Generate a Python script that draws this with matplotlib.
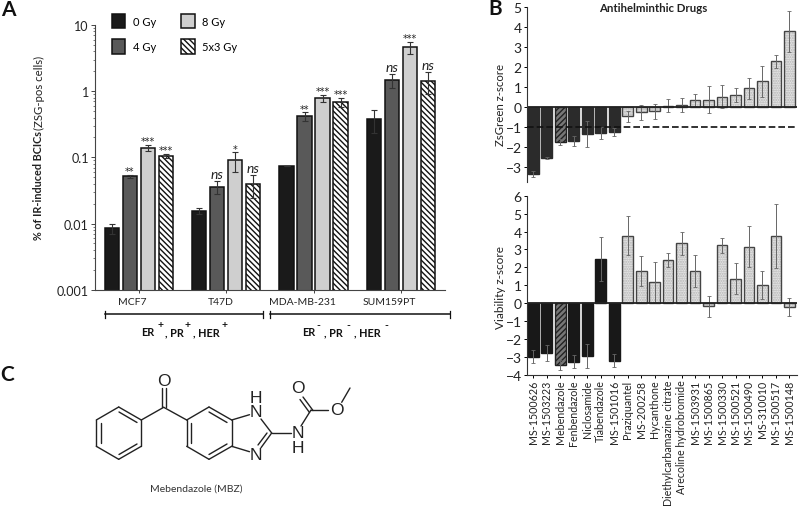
import matplotlib
matplotlib.use("Agg")
import matplotlib.pyplot as plt
import numpy as np

plt.rcParams['font.family'] = ['Lato', 'DejaVu Sans']
plt.rcParams['hatch.linewidth'] = 1.0

W, H = 800, 510

# panel A
cell_lines = ['MCF7', 'T47D', 'MDA-MB-231', 'SUM159PT']
doses = ['0 Gy', '4 Gy', '8 Gy', '5x3 Gy']
gy0 = [0.0085, 0.0155, 0.074, 0.38]
gy4 = [0.052, 0.036, 0.42, 1.48]
gy8 = [0.14, 0.09, 0.79, 4.65]
gy5x3 = [0.106, 0.039, 0.69, 1.44]
gy0_err = [0.0015, 0.0015, 0.001, 0.145]
gy4_err = [0.003, 0.008, 0.06, 0.36]
gy8_err = [0.015, 0.03, 0.095, 0.95]
gy5x3_err = [0.008, 0.015, 0.11, 0.53]
gy4_sig = ['**', 'ns', '**', 'ns']
gy8_sig = ['***', '*', '***', '***']
gy5x3_sig = ['***', 'ns', '***', 'ns']

# panel B
drugs = ['MS-1500626', 'MS-1503223', 'Mebendazole', 'Fenbendazole', 'Niclosamide',
         'Tiabendazole', 'MS-1501016', 'Praziquantel', 'MS-200258', 'Hycanthone',
         'Diethylcarbamazine citrate', 'Arecoline hydrobromide', 'MS-1503931',
         'MS-1500865', 'MS-1500330', 'MS-1500521', 'MS-1500490', 'MS-310010',
         'MS-1500517', 'MS-1500148']
zsgreen = [-3.35, -2.55, -1.75, -1.7, -1.35, -1.3, -1.25, -0.45, -0.25, -0.2,
           0.08, 0.12, 0.36, 0.38, 0.53, 0.62, 0.95, 1.3, 2.3, 3.8]
zsgreen_err = [0.17, 0.07, 0.13, 0.27, 0.66, 0.3, 0.2, 0.28, 0.38, 0.37,
               0.33, 0.35, 0.3, 0.68, 0.57, 0.35, 0.52, 0.77, 0.32, 1.02]
viability = [-2.97, -2.77, -3.44, -3.25, -2.94, 2.47, -3.2, 3.77, 1.78, 1.19,
             2.42, 3.35, 1.82, -0.17, 3.23, 1.38, 3.16, 1.0, 3.77, -0.22]
viability_err = [0.36, 0.43, 0.3, 0.37, 0.68, 1.23, 0.35, 1.1, 0.84, 1.1,
                 0.37, 0.63, 0.89, 0.57, 0.43, 0.85, 1.13, 0.78, 1.79, 0.5]
n_hits = 7


def axes_px(left, top, right, bottom):
    return fig.add_axes([left / W, 1 - bottom / H, (right - left) / W, (bottom - top) / H])


fig = plt.figure(figsize=(8, 5.1), dpi=100)

# ---- A ----
ax = axes_px(95, 26, 445, 290.7)
ax.set_yscale('log')
ax.set_ylim(0.001, 10)
ax.set_xlim(-0.944, 18.5)
group_step = 4.85
styles = [dict(color='#1a1a1a', edgecolor='#111111'),
          dict(color='#595959', edgecolor='#111111'),
          dict(color='#cfcfcf', edgecolor='#111111'),
          dict(color='white', edgecolor='#111111', hatch='\\\\\\\\\\\\')]
series = [gy0, gy4, gy8, gy5x3]
errs = [gy0_err, gy4_err, gy8_err, gy5x3_err]
sigs = [None, gy4_sig, gy8_sig, gy5x3_sig]
handles = []
for i in range(4):
    xs = np.arange(4) * group_step + i
    b = ax.bar(xs, series[i], width=0.8, bottom=0.0001, linewidth=1.1, **styles[i])
    handles.append(b)
    ax.errorbar(xs, series[i], yerr=errs[i], fmt='none', ecolor='#333333',
                elinewidth=0.8, capsize=2, capthick=0.8)
    if sigs[i] is None:
        continue
    for x, v, e, s in zip(xs, series[i], errs[i], sigs[i]):
        if s == 'ns':
            ax.annotate(s, (x, v + e), xytext=(0, 0.5), textcoords='offset points',
                        ha='center', va='bottom', fontsize=10, style='italic', color='#222222')
        else:
            ax.annotate(s, (x, v + e), xytext=(0, -1.2), textcoords='offset points',
                        ha='center', va='bottom', fontsize=7, family='DejaVu Sans', color='#222222')

for s in ['top', 'right']:
    ax.spines[s].set_visible(False)
for s in ['left', 'bottom']:
    ax.spines[s].set_color('#444444')
    ax.spines[s].set_linewidth(0.8)
ax.set_xticks(np.arange(4) * group_step + 1.5)
ax.set_xticklabels([])
ax.tick_params(axis='x', length=2.5, width=0.7, color='#444444')
ax.set_yticks([0.001, 0.01, 0.1, 1, 10])
ax.set_yticklabels(['0.001', '0.01', '0.1', '1', '10'], fontsize=9, color='#222222')
ax.tick_params(axis='y', which='major', length=3, width=0.7, color='#444444', pad=1.5)
ax.tick_params(axis='y', which='minor', length=1.5, width=0.5, color='#444444')
ax.legend([h for h in handles], doses, ncol=2, frameon=False, fontsize=8,
          loc='upper left', bbox_to_anchor=(0.0486, 1.0416), handlelength=1.2, handleheight=1.6,
          labelspacing=1.0, columnspacing=2.3, handletextpad=0.65, borderpad=0, borderaxespad=0)

# ---- B ----
xpos = np.arange(len(drugs))


def draw_zscores(a, values, errors, hit_color, is_hit):
    for i, (x, v) in enumerate(zip(xpos, values)):
        if drugs[i] == 'Mebendazole':
            a.bar(x, v, width=0.8, linewidth=1.0, color='#777777', edgecolor='#222222', hatch='//////')
        elif is_hit[i]:
            a.bar(x, v, width=0.8, linewidth=1.0, color=hit_color, edgecolor=hit_color)
        else:
            a.bar(x, v, width=0.8, linewidth=0, color='#e4e4e4', edgecolor='#b4b4b4', hatch='.......')
            a.bar(x, v, width=0.8, linewidth=1.0, fill=False, edgecolor='#444444')
    a.errorbar(xpos, values, yerr=errors, fmt='none', ecolor='#666666',
               elinewidth=0.7, capsize=1.2, capthick=0.6)
    a.axhline(0, color='#222222', linewidth=1.3)
    a.set_xlim((526.7 - 533.3) / 13.48, (797 - 533.3) / 13.48)
    for s in ['top', 'right']:
        a.spines[s].set_visible(False)
    a.spines['left'].set_color('#333333')
    a.spines['left'].set_linewidth(0.8)
    a.tick_params(axis='y', length=2.5, width=0.7, labelsize=10, pad=1, labelcolor='#222222')


ax_top = axes_px(526.7, 8.3, 797, 183)
draw_zscores(ax_top, zsgreen, zsgreen_err, '#2b2b2b', [i < n_hits for i in range(20)])
ax_top.set_ylim(-3.75, 5)
ax_top.set_yticks(range(-3, 6))
ax_top.spines['bottom'].set_visible(False)
ax_top.set_xticks([])
ax_top.axhline(-1, color='#111111', linewidth=1.2, linestyle=(0, (4, 1.8)), zorder=5)

ax_bot = axes_px(526.7, 196.7, 797, 376)
draw_zscores(ax_bot, viability, viability_err, '#181818', [i < n_hits for i in range(20)])
ax_bot.set_ylim(-4, 6)
ax_bot.set_yticks(range(-4, 7))
ax_bot.spines['bottom'].set_color('#333333')
ax_bot.spines['bottom'].set_linewidth(0.8)
ax_bot.set_xticks(xpos)
ax_bot.set_xticklabels(drugs, rotation=90, fontsize=7.7, color='#222222')
ax_bot.tick_params(axis='x', length=2.5, width=0.7, pad=0.8)

# ---- text and drawing on top, in pixels ----
ov = fig.add_axes([0, 0, 1, 1], zorder=10)
ov.set_xlim(0, W)
ov.set_ylim(H, 0)
ov.axis('off')
ov.patch.set_alpha(0)

for s, x, y in [('A', 8, 10), ('B', 495, 9), ('C', 7, 375)]:
    ov.text(x, y, s, fontsize=15, fontweight='bold', ha='center', va='center', color='#111111')

ov.text(39, 240, '% of IR-induced BCICs', rotation=90, fontsize=7.8, fontweight='bold',
        ha='center', va='bottom', color='#222222')
ov.text(39, 130, '(ZSG-pos cells)', rotation=90, fontsize=8.2,
        ha='center', va='bottom', color='#222222')
for name, x in zip(cell_lines, [132.7, 221, 302, 389]):
    ov.text(x, 302.5, name, fontsize=7.5, ha='center', va='center', color='#222222')

# brackets under panel A
for x0, x1 in [(105, 263.3), (270, 450)]:
    ov.plot([x0, x1], [315.3, 315.3], color='#111111', lw=1.1)
    ov.plot([x0, x0], [311.5, 319], color='#111111', lw=0.9)
    ov.plot([x1, x1], [311.5, 319], color='#111111', lw=0.9)

for txt, x in [('ER', 141), (', PR', 165), (', HER', 193), ('ER', 302), (', PR', 324), (', HER', 354.5)]:
    ov.text(x, 332.7, txt, fontsize=7.8, fontweight='bold', va='center', color='#111111')
for x in [160, 187.7, 224]:
    ov.text(x, 326, '+', fontsize=7.5, fontweight='bold', ha='center', va='center', color='#111111')
for x in [318, 348, 386]:
    ov.text(x, 326, '-', fontsize=7.5, fontweight='bold', ha='center', va='center', color='#111111')

ov.text(653, 8, 'Antihelminthic Drugs', fontsize=8.2, fontweight='bold', ha='center', va='center',
        color='#222222')
ov.text(501, 105, 'ZsGreen z-score', rotation=90, fontsize=8.2, ha='center', va='center', color='#222222')
ov.text(501, 288, 'Viability z-score', rotation=90, fontsize=8.5, ha='center', va='center', color='#222222')

# ---- C, mebendazole structure ----
bonds = [
    # phenyl
    (118.7, 408, 141.3, 421), (141.3, 421, 141.3, 447.3), (141.3, 447.3, 118.7, 460.3),
    (118.7, 460.3, 96.3, 447.3), (96.3, 447.3, 96.3, 421), (96.3, 421, 118.7, 408),
    (119, 413, 137, 423.5), (137, 445, 119, 455.5), (100.5, 424, 100.5, 444),
    # ketone
    (141.3, 421, 163.7, 408.3), (163.7, 408.3, 186.7, 421),
    (162, 389, 162, 408), (165.5, 389, 165.5, 408),
    # benzo ring
    (186.7, 421, 209, 408), (209, 408, 231.7, 421), (231.7, 421, 231.7, 447.3),
    (231.7, 447.3, 209, 460.3), (209, 460.3, 186.7, 447.3), (186.7, 447.3, 186.7, 421),
    (191, 424, 191, 444), (209, 413, 227, 423.5), (227, 445, 209, 455.5),
    # imidazole
    (231.7, 421, 249.5, 415.7), (231.7, 447.3, 249.5, 452.7),
    (261, 420, 271.7, 434), (271.7, 434, 261, 448.7), (267, 434, 258, 446),
    # carbamate
    (271.7, 434, 291, 434), (301, 427, 311, 411), (311, 411, 328, 411),
    (303, 398, 313, 411.5), (300, 400.5, 309.5, 413.5),
    (341.7, 403.3, 350, 389),
]
for x0, y0, x1, y1 in bonds:
    ov.plot([x0, x1], [y0, y1], color='#222222', lw=1.0, solid_capstyle='round')

atoms = [('O', 163.7, 382), ('H', 256.3, 398.3), ('N', 256.3, 412.7), ('N', 256.3, 456),
         ('N', 297.7, 434), ('H', 297.7, 449), ('O', 297.7, 389), ('O', 336.7, 411)]
for s, x, y in atoms:
    ov.text(x, y, s, fontsize=12.5, family='Liberation Sans', ha='center', va='center', color='#222222')
ov.text(196, 489.5, 'Mebendazole (MBZ)', fontsize=7.5, ha='center', va='center', color='#333333')

fig.savefig('out.png', dpi=100)
